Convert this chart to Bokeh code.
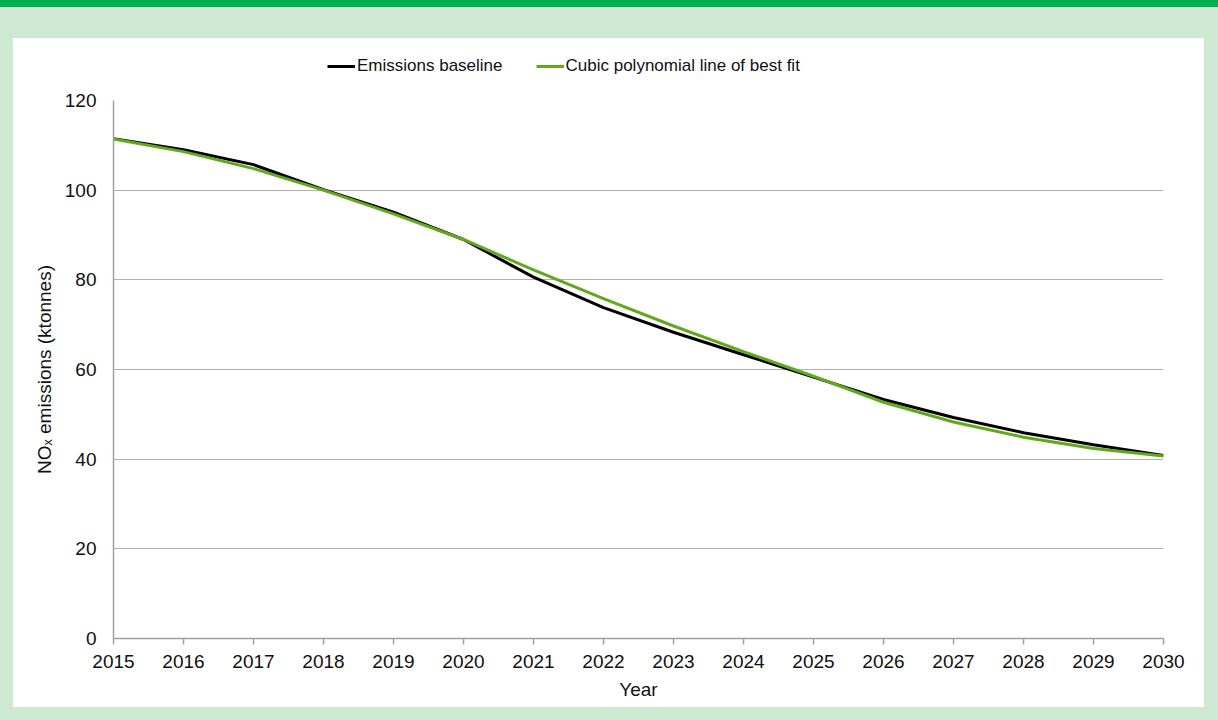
from bokeh.plotting import figure
from bokeh.models import Legend, LegendItem, Spacer, FixedTicker, Range1d
from bokeh.layouts import column, row
from bokeh.embed import file_html
from bokeh.resources import INLINE

years = list(range(2015, 2031))
baseline = [111.5, 109.0, 105.7, 100.1, 95.1, 89.0, 80.6, 73.8, 68.3, 63.3, 58.3, 53.3, 49.3, 45.9, 43.2, 40.8]
best_fit = [111.4, 108.6, 104.8, 100.0, 94.7, 89.0, 82.2, 75.8, 69.7, 64.0, 58.5, 52.7, 48.3, 44.9, 42.4, 40.7]
y_ticks = [0, 20, 40, 60, 80, 100, 120]
series_names = ["Emissions baseline", "Cubic polynomial line of best fit"]

DARK = "#00b050"
LIGHT = "#cde9d4"
GREEN = "#62a81c"
GRID = "#b0b0b0"
FONT = "Liberation Sans"

# main chart
p = figure(width=1191, height=619, output_backend="svg", toolbar_location=None,
           x_range=Range1d(2015, 2030), y_range=Range1d(0, 120),
           min_border_left=100, min_border_right=41, min_border_top=12, min_border_bottom=69,
           styles={"background-color": "white"})
p.border_fill_color = "white"
p.background_fill_color = "white"
p.outline_line_color = None

r1 = p.line(years, baseline, line_color="black", line_width=3)
r2 = p.line(years, best_fit, line_color=GREEN, line_width=3)

p.xgrid.visible = False
p.ygrid.grid_line_color = GRID
p.ygrid.grid_line_width = 1

p.xaxis.ticker = FixedTicker(ticks=years)
p.yaxis.ticker = FixedTicker(ticks=y_ticks)
for ax in (p.xaxis, p.yaxis):
    ax.axis_line_color = "#a0a0a0"
    ax.axis_line_width = 1.5
    ax.major_tick_line_color = "#a0a0a0"
    ax.major_tick_line_width = 1.5
    ax.minor_tick_line_color = None
    ax.major_label_text_font = FONT
    ax.major_label_text_font_size = "19px"
    ax.major_label_text_color = "#111111"
    ax.axis_label_text_font = FONT
    ax.axis_label_text_font_size = "19px"
    ax.axis_label_text_font_style = "normal"
    ax.axis_label_text_color = "#111111"

p.xaxis.major_tick_out = 6
p.xaxis.major_tick_in = 0
p.xaxis.major_label_standoff = 10
p.xaxis.axis_label = "Year"
p.xaxis.axis_label_standoff = 8

p.yaxis.major_tick_out = 0
p.yaxis.major_tick_in = 0
p.yaxis.major_label_standoff = 17
p.yaxis.axis_label = "NOₓ emissions (ktonnes)"
p.yaxis.axis_label_standoff = 7

# legend strip: same series, drawn outside its visible range so only the legend shows
lf = figure(width=1191, height=50, output_backend="svg", toolbar_location=None,
            x_range=Range1d(0, 1), y_range=Range1d(0, 1),
            x_axis_location=None, y_axis_location=None,
            min_border_left=100, min_border_right=41, min_border_top=0, min_border_bottom=0,
            styles={"background-color": "white"})
lf.border_fill_color = "white"
lf.background_fill_color = "white"
lf.outline_line_color = None
lf.xgrid.visible = False
lf.ygrid.visible = False
l1 = lf.line(years, baseline, line_color="black", line_width=3)
l2 = lf.line(years, best_fit, line_color=GREEN, line_width=3)

legend = Legend(items=[LegendItem(label=series_names[0], renderers=[l1]),
                       LegendItem(label=series_names[1], renderers=[l2])],
                orientation="horizontal", location=(214, 12),
                padding=0, margin=0, spacing=33, glyph_width=28, glyph_height=20,
                label_height=20,
                label_standoff=2, label_text_font=FONT, label_text_font_size="17px",
                label_text_color="#111111",
                border_line_alpha=0, background_fill_alpha=0)
lf.add_layout(legend, "center")

def box(w, h, c):
    return Spacer(width=w, height=h, styles={"background-color": c})

layout = column(
    box(1218, 7, DARK),
    box(1218, 31, LIGHT),
    row(box(13, 669, LIGHT),
        column(lf, p, spacing=0, styles={"background-color": "white"}),
        box(14, 669, LIGHT), spacing=0),
    box(1218, 13, LIGHT),
    spacing=0,
    styles={"background-color": LIGHT},
)

open("out.html", "w").write(file_html(layout, INLINE))
